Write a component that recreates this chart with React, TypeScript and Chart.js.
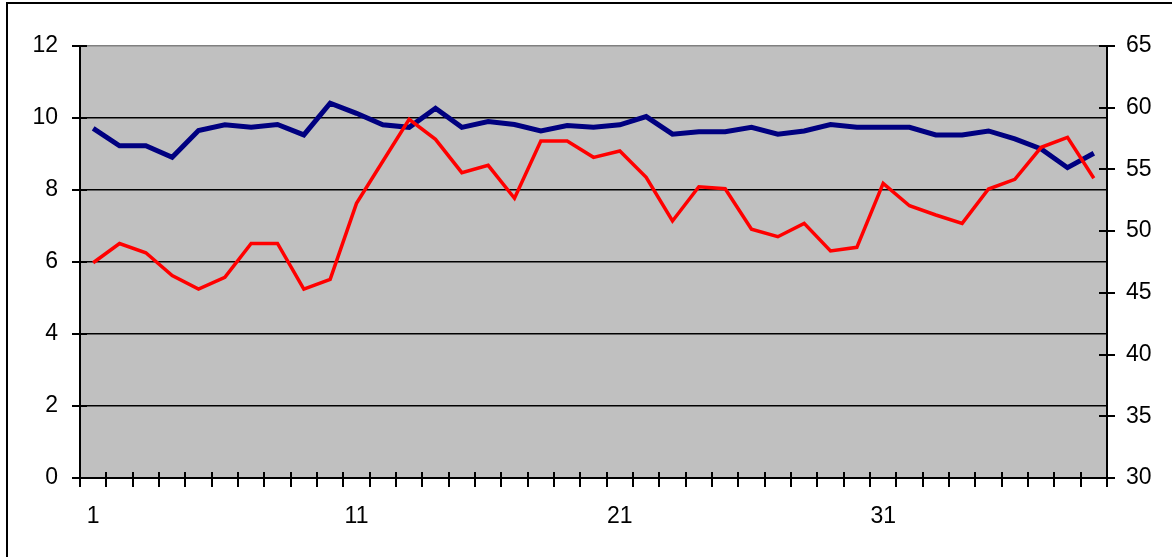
import React, { useEffect, useRef } from "react";
import { Chart, registerables } from "chart.js";

Chart.register(...registerables);

const categories: string[] = Array.from({ length: 39 }, (_, i) => String(i + 1));
const shownLabels: string[] = ["1", "11", "21", "31"];

const blueSeries: number[] = [
  9.71, 9.23, 9.23, 8.91, 9.65, 9.81, 9.74, 9.82, 9.53, 10.41,
  10.13, 9.81, 9.74, 10.27, 9.74, 9.9, 9.82, 9.64, 9.79, 9.74,
  9.81, 10.04, 9.55, 9.62, 9.62, 9.74, 9.55, 9.64, 9.82, 9.74,
  9.74, 9.74, 9.53, 9.53, 9.64, 9.42, 9.14, 8.62, 9.02,
];

const redSeries: number[] = [
  47.44, 49.0, 48.25, 46.4, 45.3, 46.26, 49.0, 49.0, 45.3, 46.1,
  52.25, 55.66, 59.06, 57.44, 54.74, 55.33, 52.66, 57.3, 57.3, 55.98,
  56.49, 54.36, 50.82, 53.6, 53.44, 50.15, 49.55, 50.63, 48.39, 48.69,
  53.87, 52.06, 51.31, 50.63, 53.41, 54.2, 56.79, 57.6, 54.28,
];

const leftMin = 0, leftMax = 12, leftStep = 2;
const rightMin = 30, rightMax = 65, rightStep = 5;

const FONT = { family: "'Liberation Sans', Arial, sans-serif", size: 23 };

const decorPlugin = {
  id: "decor",
  beforeDraw(chart: any) {
    const { ctx, chartArea, width, height } = chart;
    ctx.save();
    ctx.fillStyle = "#ffffff";
    ctx.fillRect(0, 0, width, height);
    ctx.fillStyle = "#000000";
    ctx.fillRect(6, 2, 2, height);
    ctx.fillRect(6, 2, width, 2);
    ctx.fillStyle = "#c0c0c0";
    ctx.fillRect(chartArea.left, chartArea.top, chartArea.right - chartArea.left, chartArea.bottom - chartArea.top);
    ctx.restore();
  },
  afterDraw(chart: any) {
    const { ctx, chartArea } = chart;
    const x = chart.scales.x;
    const y = chart.scales.y;
    const y1 = chart.scales.y1;
    ctx.save();
    ctx.strokeStyle = "#000000";
    ctx.lineWidth = 2;
    ctx.beginPath();
    for (let v = leftMin; v <= leftMax; v += leftStep) {
      const py = Math.round(y.getPixelForValue(v));
      ctx.moveTo(chartArea.left - 8, py);
      ctx.lineTo(chartArea.left + 7, py);
    }
    for (let v = rightMin; v <= rightMax; v += rightStep) {
      const py = Math.round(y1.getPixelForValue(v));
      ctx.moveTo(chartArea.right - 8, py);
      ctx.lineTo(chartArea.right + 8, py);
    }
    const n = categories.length;
    for (let i = 0; i <= n; i++) {
      const px = Math.round(x.getPixelForDecimal(i / n));
      ctx.moveTo(px, chartArea.bottom - 6);
      ctx.lineTo(px, chartArea.bottom + 9);
    }
    ctx.stroke();
    ctx.restore();
  },
};

export default function App() {
  const ref = useRef<HTMLCanvasElement | null>(null);
  useEffect(() => {
    if (!ref.current) return;
    const chart = new Chart(ref.current, {
      type: "line",
      data: {
        labels: categories,
        datasets: [
          {
            label: "blue",
            data: blueSeries,
            yAxisID: "y",
            borderColor: "#000080",
            borderWidth: 5,
            pointRadius: 0,
            tension: 0,
            fill: false,
            order: 1,
          },
          {
            label: "red",
            data: redSeries,
            yAxisID: "y1",
            borderColor: "#ff0000",
            borderWidth: 3.5,
            pointRadius: 0,
            tension: 0,
            fill: false,
            order: 0,
          },
        ],
      },
      options: {
        animation: false,
        responsive: false,
        devicePixelRatio: 1,
        events: [],
        layout: { padding: { top: 46, left: 0, right: 0, bottom: 0 } },
        plugins: { legend: { display: false }, tooltip: { enabled: false }, title: { display: false } },
        scales: {
          x: {
            type: "category",
            offset: true,
            grid: { display: true, drawOnChartArea: false, drawTicks: false, color: "#000" },
            border: { display: true, color: "#000", width: 2 },
            ticks: {
              autoSkip: false,
              maxRotation: 0,
              padding: 25,
              color: "#000",
              font: FONT,
              callback: (_v: any, i: number) => (shownLabels.includes(categories[i]) ? categories[i] : ""),
            },
            afterFit: (s: any) => { s.height = 79; },
          },
          y: {
            position: "left",
            min: leftMin,
            max: leftMax,
            ticks: { stepSize: leftStep, padding: 22, color: "#000", font: FONT },
            grid: {
              drawTicks: false,
              lineWidth: 1.5,
              color: (c: any) => (c.tick && c.tick.value === leftMax ? "#808080" : "#000000"),
            },
            border: { display: true, color: "#000", width: 2 },
            afterFit: (s: any) => { s.width = 80; },
          },
          y1: {
            position: "right",
            min: rightMin,
            max: rightMax,
            ticks: { stepSize: rightStep, padding: 19, color: "#000", font: FONT },
            grid: { drawOnChartArea: false, drawTicks: false },
            border: { display: true, color: "#000", width: 2 },
            afterFit: (s: any) => { s.width = 65; },
          },
        },
      },
      plugins: [decorPlugin],
    });
    return () => chart.destroy();
  }, []);
  return (
    <div style={{ position: "absolute", left: 0, top: 0, width: 1172, height: 557 }}>
      <canvas ref={ref} width={1172} height={557} style={{ display: "block", width: 1172, height: 557 }} />
    </div>
  );
}
